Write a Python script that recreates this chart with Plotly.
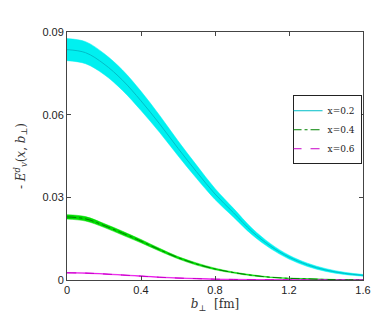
import plotly.graph_objects as go

b = [0.0, 0.1, 0.2, 0.3, 0.4, 0.5, 0.6, 0.7, 0.8, 0.9, 1.0, 1.1, 1.2, 1.3, 1.4, 1.5, 1.6]

e02 = [0.0836, 0.0825, 0.0784, 0.0725, 0.0650, 0.0567, 0.0478, 0.0393, 0.0312, 0.0244,
       0.0176, 0.0123, 0.0083, 0.0055, 0.0036, 0.0024, 0.0017]
e02_err = [0.0040, 0.0040, 0.0038, 0.0037, 0.0035, 0.0031, 0.0027, 0.0024, 0.0020, 0.0016,
           0.0012, 0.0009, 0.0007, 0.0006, 0.0005, 0.0004, 0.0003]

e04 = [0.0229, 0.0222, 0.0198, 0.0170, 0.0141, 0.0110, 0.0081, 0.0058, 0.0040, 0.0027,
       0.0017, 0.0010, 0.0006, 0.0004, 0.0002, 0.0001, 0.0001]
e04_err = [0.0008, 0.0008, 0.0007, 0.0007, 0.0006, 0.0005, 0.0004, 0.0004, 0.0003, 0.0002,
           0.0002, 0.0001, 0.0001, 0.0001, 0.0001, 0.0000, 0.0000]

e06 = [0.0026, 0.0025, 0.0022, 0.0018, 0.0014, 0.0010, 0.0007, 0.0005, 0.0003, 0.0002,
       0.0001, 0.00006, 0.00004, 0.00002, 0.00001, 0.00001, 0.0]
e06_err = [0.0001] * len(b)

labels = ["x=0.2", "x=0.4", "x=0.6"]
x_ticks = [0, 0.4, 0.8, 1.2, 1.6]
x_ticktext = ["0", "0.4", "0.8", "1.2", "1.6"]
y_ticks = [0, 0.03, 0.06, 0.09]
y_ticktext = ["0", "0.03", "0.06", "0.09"]

series = [
    (e02, e02_err, "rgb(0,240,240)", "rgb(0,190,200)", "solid", labels[0]),
    (e04, e04_err, "rgb(0,220,0)", "rgb(0,130,0)", "dashdot", labels[1]),
    (e06, e06_err, "rgb(230,0,230)", "rgb(200,0,200)", "dash", labels[2]),
]

fig = go.Figure()
for vals, err, fillc, linec, dash, name in series:
    lo = [v - e for v, e in zip(vals, err)]
    hi = [v + e for v, e in zip(vals, err)]
    fig.add_trace(go.Scatter(x=b, y=lo, mode="lines", line=dict(width=0.5, color=fillc, shape="spline"),
                             showlegend=False, hoverinfo="skip"))
    fig.add_trace(go.Scatter(x=b, y=hi, mode="lines", line=dict(width=0.5, color=fillc, shape="spline"),
                             fill="tonexty", fillcolor=fillc, showlegend=False, hoverinfo="skip"))
for vals, err, fillc, linec, dash, name in series:
    fig.add_trace(go.Scatter(x=b, y=vals, mode="lines", name=name,
                             line=dict(width=1, color=linec, dash=dash, shape="spline")))

axis_common = dict(
    showline=True, linecolor="#444", linewidth=1, mirror="ticks",
    ticks="inside", ticklen=4, tickcolor="#444", showgrid=False, zeroline=False,
    tickfont=dict(family="Liberation Sans, Arial", size=11, color="#222"),
)

fig.update_layout(
    width=382, height=313,
    margin=dict(l=59, r=27, t=24, b=35),
    paper_bgcolor="white", plot_bgcolor="white",
    xaxis=dict(range=[0, 1.6], tickvals=x_ticks, ticktext=x_ticktext,
               title=dict(text="<i>b</i><sub>⊥</sub>  [fm]", standoff=4,
                          font=dict(family="DejaVu Serif", size=12, color="#333")),
               **axis_common),
    yaxis=dict(range=[0, 0.09], tickvals=y_ticks, ticktext=y_ticktext,
               title=dict(text="- <i>E</i><sup><i>d</i></sup><sub><i>v</i></sub>(<i>x</i>, <i>b</i><sub>⊥</sub>)",
                          standoff=14,
                          font=dict(family="DejaVu Serif", size=12, color="#333")),
               **axis_common),
    legend=dict(x=0.762, y=0.745, xanchor="left", yanchor="top",
                bgcolor="white", bordercolor="#222", borderwidth=1,
                font=dict(family="DejaVu Serif", size=9, color="#222"),
                itemwidth=30, tracegroupgap=0, traceorder="normal",
                indentation=-6),
)

fig.write_html("out.html")
